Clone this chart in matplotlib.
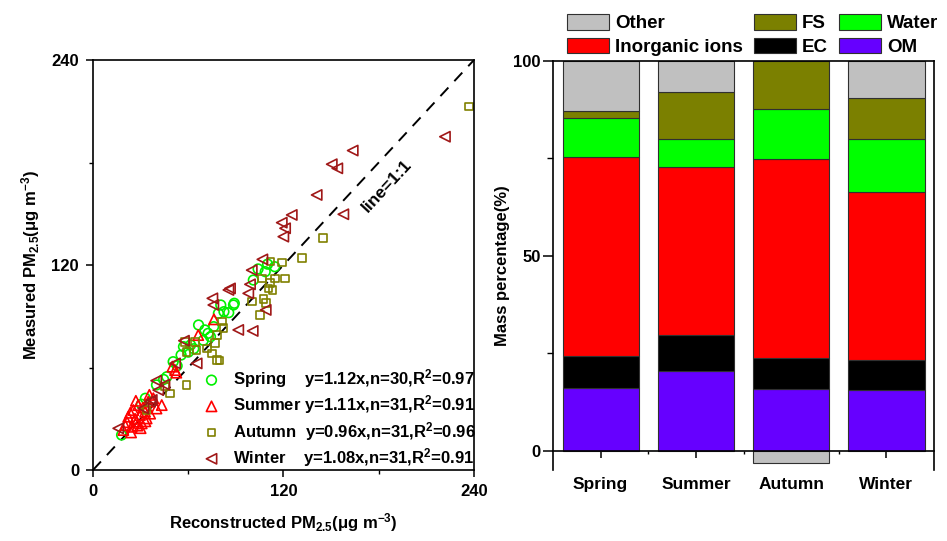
import matplotlib
matplotlib.use("Agg")
import matplotlib.pyplot as plt
from matplotlib.ticker import MultipleLocator, FixedLocator
import numpy as np

plt.rcParams["font.family"] = ["Liberation Sans", "DejaVu Sans"]
plt.rcParams["font.weight"] = "bold"
plt.rcParams["mathtext.fontset"] = "custom"
plt.rcParams["mathtext.rm"] = "Liberation Sans:bold"
plt.rcParams["mathtext.it"] = "Liberation Sans:bold"
plt.rcParams["mathtext.bf"] = "Liberation Sans:bold"
plt.rcParams["mathtext.default"] = "rm"

# --- scatter: reconstructed vs measured PM2.5 ---
spring_x = [18.0, 30.5, 33.0, 40.0, 44.5, 46.5, 50.5, 53.0, 55.5, 57.0, 60.0, 61.5, 63.5, 66.5, 69.5,
            72.5, 74.0, 76.0, 79.0, 80.5, 82.5, 85.5, 88.5, 89.0, 70.5, 101.0, 104.0, 108.5, 110.0, 114.5]
spring_y = [20.5, 38.5, 42.0, 49.8, 53.0, 54.6, 63.4, 61.0, 67.3, 72.2, 69.0, 73.2, 71.0, 84.9, 75.9,
            80.0, 78.0, 83.9, 91.7, 96.6, 92.7, 92.1, 96.6, 97.6, 82.0, 111.2, 117.7, 116.1, 120.5, 119.0]

summer_x = [19.1, 20.2, 22.2, 24.4, 25.4, 27.5, 28.5, 29.6, 30.7, 32.8, 33.8, 34.8, 38.0, 43.3, 50.0, 51.7,
            66.3, 76.2, 21.5, 23.5, 26.5, 28.0, 31.5, 36.0, 24.0, 30.0, 35.5, 40.0, 27.0, 33.0, 52.5]
summer_y = [23.4, 26.3, 31.2, 25.3, 35.1, 28.3, 38.0, 32.2, 27.3, 34.1, 30.2, 40.0, 42.0, 38.0, 60.5, 58.5,
            79.0, 88.2, 28.0, 33.5, 30.0, 26.0, 36.5, 33.0, 22.0, 24.5, 44.0, 36.0, 40.5, 28.5, 57.0]

autumn_x = [237.0, 145.0, 131.5, 118.9, 111.9, 121.0, 114.6, 106.3, 111.5, 110.5, 100.0, 107.3, 105.2, 81.1,
            82.1, 78.0, 76.8, 71.7, 74.8, 78.0, 65.3, 59.0, 58.0, 64.3, 79.6, 59.0, 48.5, 45.4, 33.8, 113.2, 109.0]
autumn_y = [212.7, 135.7, 124.0, 121.5, 122.0, 112.2, 112.2, 112.2, 109.3, 106.3, 98.6, 100.0, 90.7, 86.9,
            83.0, 79.0, 74.2, 71.2, 68.3, 64.4, 70.2, 69.2, 75.1, 75.1, 64.0, 49.8, 44.9, 48.8, 35.1, 105.4, 97.6]

winter_x = [221.7, 163.6, 150.4, 153.9, 140.9, 157.7, 125.2, 118.9, 121.0, 119.9, 106.7, 100.0, 98.9, 86.3,
            85.3, 75.2, 75.8, 97.8, 108.8, 91.5, 100.6, 57.3, 65.3, 51.7, 39.8, 41.1, 35.9, 31.7, 15.9, 37.0, 45.0]
winter_y = [195.1, 187.0, 179.0, 176.6, 161.0, 149.7, 149.3, 144.8, 141.5, 136.6, 123.3, 117.0, 108.7, 106.3,
            105.4, 100.5, 96.6, 103.4, 93.7, 82.0, 81.4, 75.7, 62.4, 62.4, 52.3, 46.8, 40.0, 36.1, 24.4, 41.0, 50.0]

fit_labels = [
    "Spring    y=1.12x,n=30,R$^2$=0.97",
    "Summer y=1.11x,n=31,R$^2$=0.91",
    "Autumn  y=0.96x,n=31,R$^2$=0.96",
    "Winter    y=1.08x,n=31,R$^2$=0.91",
]

# --- stacked bars: mass percentage ---
seasons = ["Spring", "Summer", "Autumn", "Winter"]
om = [16.1, 20.3, 15.9, 15.6]
ec = [8.3, 9.4, 7.8, 7.7]
inorganic = [50.9, 43.0, 51.1, 43.2]
water = [10.2, 7.4, 13.0, 13.4]
fs = [1.7, 12.0, 12.2, 10.5]
other = [12.8, 7.9, -3.3, 9.6]

fig = plt.figure(figsize=(9.47, 5.41), dpi=100)
ax1 = fig.add_axes([0.0982, 0.1312, 0.4023, 0.7579])
ax2 = fig.add_axes([0.5840, 0.1312, 0.4023, 0.7560])

# left panel
ax1.plot([0, 240], [0, 240], color="black", linestyle=(0, (6, 4.5)), linewidth=1.4, zorder=1)
series = [
    (spring_x, spring_y, "o", "#00f000", 48),
    (summer_x, summer_y, "^", "#ff0000", 55),
    (autumn_x, autumn_y, "s", "#808000", 30),
    (winter_x, winter_y, "<", "#a01818", 55),
]
handles = []
for (xs, ys, mk, col, sz), lab in zip(series, fit_labels):
    h = ax1.scatter(xs, ys, marker=mk, s=sz, facecolors="none", edgecolors=col,
                    linewidths=1.2, label=lab, zorder=2)
    handles.append(h)

ax1.text(185, 166, "line=1:1", rotation=47, fontsize=12.5, fontweight="bold",
         ha="center", va="center")

ax1.set_xlim(0, 240)
ax1.set_ylim(0, 240)
ax1.xaxis.set_major_locator(FixedLocator([0, 120, 240]))
ax1.yaxis.set_major_locator(FixedLocator([0, 120, 240]))
ax1.xaxis.set_minor_locator(FixedLocator([60, 180]))
ax1.yaxis.set_minor_locator(FixedLocator([60, 180]))
ax1.tick_params(which="major", direction="out", length=5, width=1.1, labelsize=12, pad=5)
ax1.tick_params(which="minor", direction="out", length=3, width=1.0)
for sp in ax1.spines.values():
    sp.set_linewidth(1.2)
ax1.set_xlabel("Reconstructed PM$_{2.5}$(μg m$^{-3}$)", fontsize=12, fontweight="bold", labelpad=9)
ax1.set_ylabel("Measured PM$_{2.5}$(μg m$^{-3}$)", fontsize=12, fontweight="bold", labelpad=7)

ax1.legend(handles=handles, loc="lower right", bbox_to_anchor=(1.005, 0.003), frameon=False,
           fontsize=12, handlelength=1.0, handletextpad=0.8, labelspacing=0.2,
           borderpad=0.0, borderaxespad=0, scatterpoints=1)

# right panel
x = np.arange(len(seasons))
parts = [
    ("OM", om, "#6600ff"),
    ("EC", ec, "#000000"),
    ("Inorganic ions", inorganic, "#ff0000"),
    ("Water", water, "#00ff00"),
    ("FS", fs, "#7b8000"),
    ("Other", other, "#c0c0c0"),
]
bottom = np.zeros(len(seasons))
bars = {}
for name, vals, col in parts:
    vals = np.array(vals)
    base = np.where(vals >= 0, bottom, 0)
    bars[name] = ax2.bar(x, vals, 0.8, bottom=base, color=col, edgecolor="#303030",
                         linewidth=0.8, label=name, zorder=2)
    bottom = bottom + np.clip(vals, 0, None)

ax2.set_xlim(-0.5, 3.5)
ax2.set_ylim(-5, 100)
ax2.spines["bottom"].set_position(("data", 0))
ax2.spines["bottom"].set_zorder(3)
for sp in ax2.spines.values():
    sp.set_linewidth(1.2)
ax2.set_xticks(x)
ax2.set_xticklabels(seasons)
ax2.xaxis.set_minor_locator(FixedLocator([0.5, 1.5, 2.5]))
ax2.yaxis.set_major_locator(MultipleLocator(50))
ax2.yaxis.set_minor_locator(MultipleLocator(25))
ax2.tick_params(axis="x", which="major", direction="out", length=5, width=1.1, labelsize=12.5, pad=14)
ax2.tick_params(axis="x", which="minor", direction="out", length=2.5, width=1.0)
ax2.tick_params(axis="y", which="major", direction="out", length=7, width=1.1, labelsize=12, pad=2)
ax2.tick_params(axis="y", which="minor", direction="out", length=4, width=1.0)
ax2.set_ylabel("Mass percentage(%)", fontsize=12, fontweight="bold", labelpad=2)

order = ["Other", "Inorganic ions", "FS", "EC", "Water", "OM"]
ax2.legend([bars[n] for n in order], order, ncol=3, loc="lower left",
           bbox_to_anchor=(0.037, 1.012), frameon=False, fontsize=13.5,
           handlelength=2.25, handleheight=0.9, handletextpad=0.3, columnspacing=0.6,
           labelspacing=0.3, borderpad=0, borderaxespad=0)

fig.savefig("out.png", dpi=100)
